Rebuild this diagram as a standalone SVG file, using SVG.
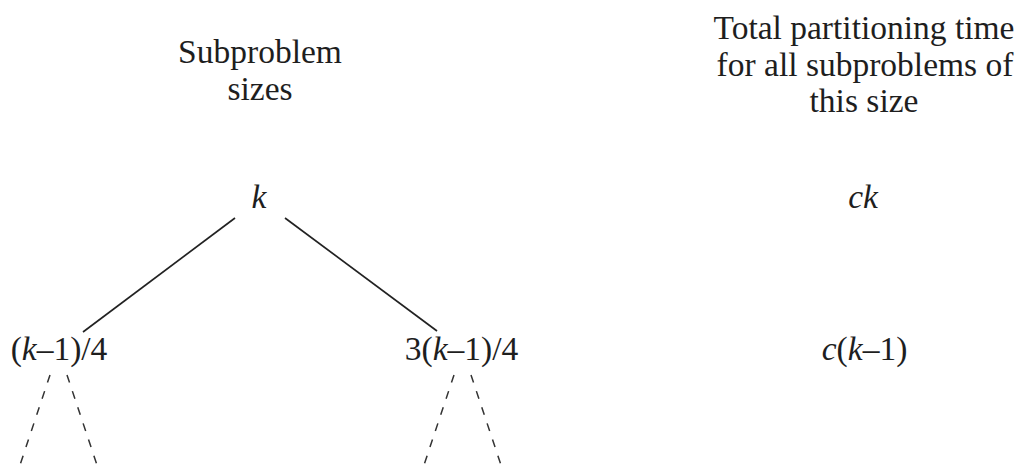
<svg xmlns="http://www.w3.org/2000/svg" width="1024" height="471" viewBox="0 0 1024 471">
<style>
text{font-family:"Liberation Serif","Times New Roman",serif;font-size:33.5px;fill:#1e1e1e;text-anchor:middle}
.i{font-style:italic}
.solid{stroke:#222;stroke-width:1.7;fill:none}
.dash{stroke:#333;stroke-width:1.5;fill:none;stroke-dasharray:8 9}
</style>
<rect width="1024" height="471" fill="#fff"/>
<g id="header-sizes">
<text x="260" y="63">Subproblem</text>
<text x="260" y="100">sizes</text>
</g>
<g id="header-time">
<text x="864" y="39">Total partitioning time</text>
<text x="865" y="76">for all subproblems of</text>
<text x="864" y="112">this size</text>
</g>
<g id="node-k">
<text x="259" y="208" class="i">k</text>
</g>
<g id="time-ck">
<text x="863" y="208" class="i">ck</text>
</g>
<g id="node-left">
<text x="59" y="360">(<tspan class="i">k</tspan>–1)/4</text>
</g>
<g id="node-right">
<text x="461.5" y="360">3(<tspan class="i">k</tspan>–1)/4</text>
</g>
<g id="time-ck1">
<text x="864.5" y="360"><tspan class="i">c</tspan>(<tspan class="i">k</tspan>–1)</text>
</g>
<g id="connectors">
<line class="solid" x1="235" y1="218" x2="83" y2="332"/>
<line class="solid" x1="285" y1="218" x2="437" y2="331"/>
<line class="dash" x1="50" y1="375" x2="18" y2="471"/>
<line class="dash" x1="67" y1="375" x2="99" y2="471"/>
<line class="dash" x1="454" y1="375" x2="422" y2="471"/>
<line class="dash" x1="471" y1="375" x2="503" y2="471"/>
</g>
</svg>
